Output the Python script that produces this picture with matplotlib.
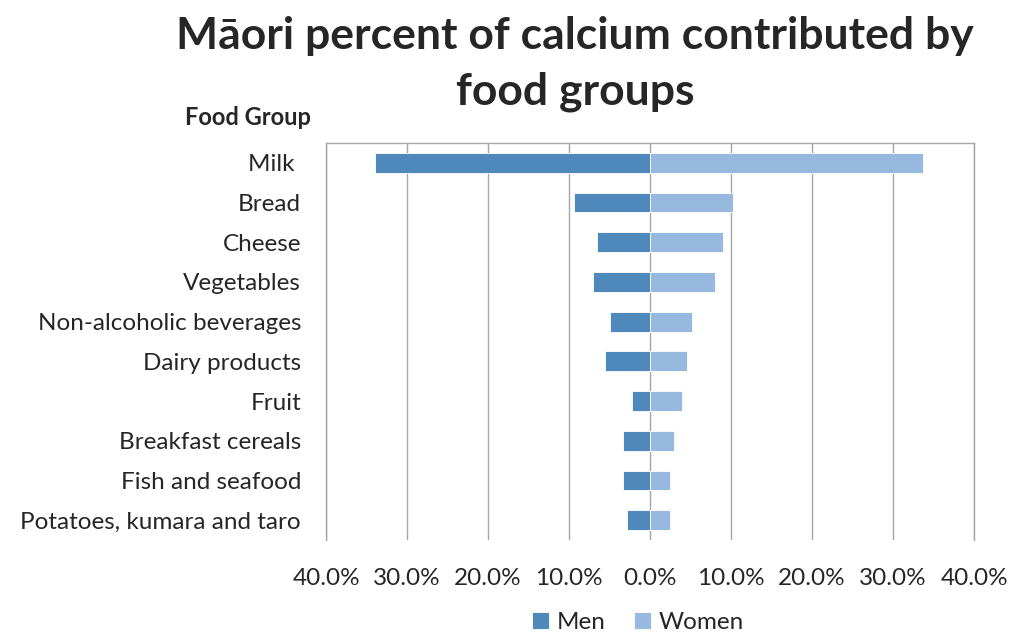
import matplotlib
matplotlib.use("Agg")
import matplotlib.pyplot as plt
from matplotlib.ticker import FuncFormatter

plt.rcParams['font.family'] = ['Lato', 'DejaVu Sans']

categories = ["Milk ", "Bread", "Cheese", "Vegetables", "Non-alcoholic beverages",
              "Dairy products", "Fruit", "Breakfast cereals", "Fish and seafood",
              "Potatoes, kumara and taro"]
men = [33.9, 9.4, 6.6, 7.0, 4.9, 5.6, 2.2, 3.3, 3.3, 2.8]
women = [33.7, 10.2, 9.0, 8.0, 5.2, 4.6, 4.0, 2.9, 2.5, 2.5]
xticks = [-40, -30, -20, -10, 0, 10, 20, 30, 40]

men_color = "#4F88BB"
women_color = "#98B9DF"
grid_color = "#A6A6A6"
text_color = "#262626"

fig = plt.figure(figsize=(10.11, 6.35), dpi=100)
ax = fig.add_axes([0.3225, 0.1496, 0.641, 0.6254])

y = list(range(len(categories)))
ax.barh(y, [-m for m in men], height=0.5, color=men_color, edgecolor="white",
        linewidth=0.6, label="Men", zorder=3)
ax.barh(y, women, height=0.5, color=women_color, edgecolor="white",
        linewidth=0.6, label="Women", zorder=3)

ax.set_xlim(-40, 40)
ax.set_ylim(len(categories) - 0.5, -0.5)
ax.set_xticks(xticks)
ax.xaxis.set_major_formatter(FuncFormatter(lambda v, p: f"{abs(v):.1f}%"))
ax.set_yticks(y)
ax.set_yticklabels(categories)
ax.tick_params(axis='both', length=0, labelsize=17.5, colors=text_color)
ax.tick_params(axis='x', pad=20)
ax.tick_params(axis='y', pad=18)
ax.grid(axis='x', color=grid_color, linewidth=1.0, zorder=0)
for s in ax.spines.values():
    s.set_color(grid_color)
    s.set_linewidth(1.0)
ax.spines['bottom'].set_visible(False)

fig.text(0.5687, 0.975, "Māori percent of calcium contributed by",
         ha='center', va='top', fontsize=32, fontweight='bold', color=text_color)
fig.text(0.5687, 0.888, "food groups",
         ha='center', va='top', fontsize=32, fontweight='bold', color=text_color)
fig.text(0.308, 0.815, "Food Group", ha='right', va='center', fontsize=17,
         fontweight='bold', color=text_color)

leg = fig.legend(loc='center', bbox_to_anchor=(0.631, 0.02), ncol=2, frameon=False,
                 fontsize=17.5, handlelength=0.7, handleheight=0.7, columnspacing=1.2,
                 handletextpad=0.3)
for t in leg.get_texts():
    t.set_color(text_color)

fig.savefig("out.png", dpi=100)
